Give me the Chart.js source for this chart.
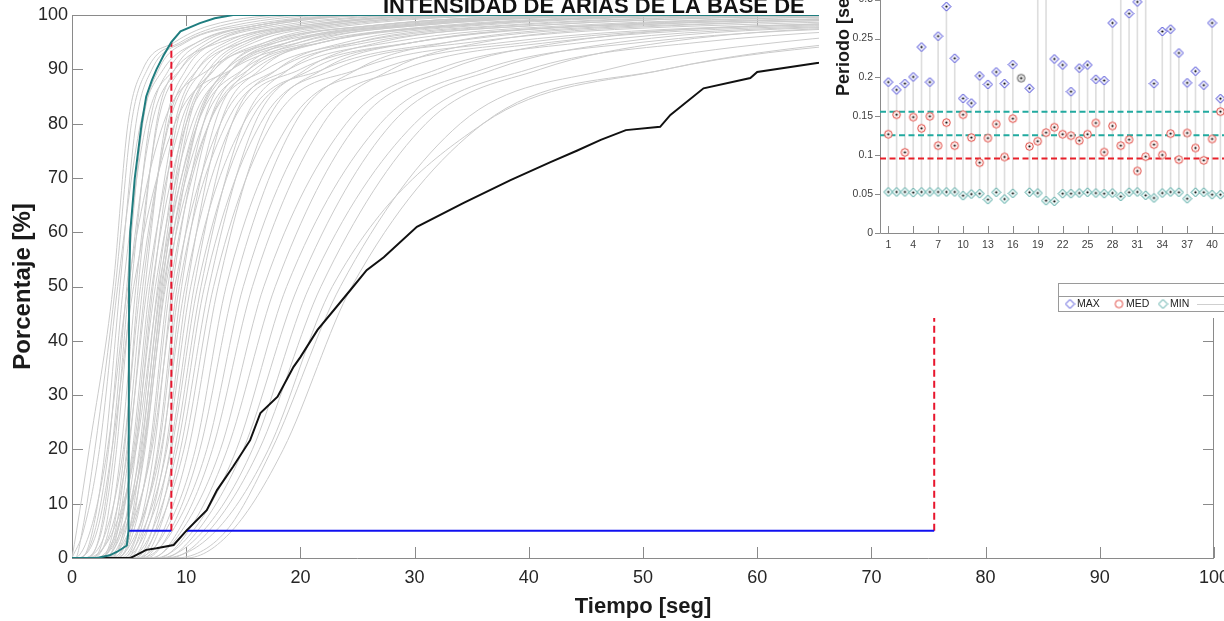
<!DOCTYPE html>
<html><head><meta charset="utf-8">
<script src="https://cdn.jsdelivr.net/npm/chart.js@4.4.0/dist/chart.umd.min.js"></script>
<style>
html,body{margin:0;padding:0;overflow:hidden;background:#fff;width:1224px;height:621px;}
#main{position:absolute;left:0;top:0;}
#inset{position:absolute;left:819px;top:-170px;background:#fff;}
</style></head><body>
<canvas id="main" width="1224" height="621"></canvas>
<canvas id="inset" width="441" height="488"></canvas>
<script>
// ---------------- MAIN CHART DATA ----------------
const titleText = 'INTENSIDAD DE ARIAS DE LA BASE DE';
const xTitle = 'Tiempo [seg]';
const yTitle = 'Porcentaje [%]';
// Husid levels (%) and time (s) at which each gray record reaches them
const huLevels = [0, 5, 20, 50, 80, 90, 95, 98, 100];
const grayCurves = [
  [0.0, 0.4, 1.5, 3.6, 4.9, 6.2, 9.0, 12, 20],
  [0.3, 0.9, 2.0, 3.8, 5.2, 6.6, 9.5, 13, 22],
  [0.0, 1.0, 2.4, 4.0, 6.0, 8.0, 11, 16, 28],
  [0.8, 1.8, 2.9, 4.2, 5.6, 7.0, 9.8, 14, 24],
  [0.6, 2.0, 3.2, 4.5, 6.5, 9.0, 13, 20, 34],
  [1.4, 2.5, 3.5, 4.8, 6.2, 7.6, 10, 15, 26],
  [0.2, 1.6, 3.1, 4.9, 8.0, 12, 18, 28, 48],
  [1.0, 2.6, 3.7, 5.0, 7.0, 9.5, 12.5, 18, 32],
  [1.8, 2.9, 3.9, 5.2, 6.8, 8.5, 11, 16, 28],
  [0.4, 2.2, 3.5, 5.4, 9.0, 14, 21, 33, 58],
  [1.8, 3.2, 4.3, 5.6, 7.5, 9.5, 12, 17, 28],
  [2.5, 3.6, 4.6, 5.8, 7.4, 9.0, 11.5, 16, 27],
  [1.0, 3.0, 4.5, 6.0, 8.5, 11, 15, 22, 38],
  [2.2, 3.8, 4.8, 6.2, 8.4, 10.5, 13.5, 19, 33],
  [3.0, 4.0, 5.0, 6.4, 8.2, 10, 12.5, 17, 30],
  [1.5, 3.4, 4.9, 6.6, 9.5, 12.5, 17, 26, 45],
  [2.8, 4.2, 5.3, 6.8, 9.0, 11, 14, 20, 35],
  [2.0, 3.9, 5.4, 7.0, 10, 13.5, 19, 29, 50],
  [3.5, 4.5, 5.6, 7.1, 9.2, 11.5, 14.5, 21, 36],
  [2.4, 4.0, 5.5, 7.3, 10.5, 14, 20, 30, 55],
  [3.2, 4.7, 5.9, 7.5, 9.8, 12, 15, 22, 40],
  [1.2, 3.6, 5.6, 7.6, 11, 15, 22, 34, 60],
  [3.8, 5.0, 6.1, 7.7, 10, 12.5, 16, 23, 42],
  [2.6, 4.4, 6.0, 7.8, 10.8, 13.5, 17.5, 26, 48],
  [4.0, 5.2, 6.3, 7.9, 10.2, 12.3, 15.5, 21, 38],
  [3.0, 4.6, 6.2, 8.0, 11.5, 15.5, 22, 33, 65],
  [3.6, 5.0, 6.4, 8.1, 11, 14, 19, 28, 52],
  [2.2, 4.3, 6.3, 8.2, 12, 17, 25, 38, 75],
  [4.0, 5.4, 6.8, 8.4, 11, 13.5, 17, 24, 45],
  [3.4, 5.2, 6.9, 8.6, 12, 16, 22, 32, 62],
  [4.5, 5.8, 7.2, 8.8, 11.5, 14, 18, 26, 50],
  [3.0, 5.0, 7.0, 9.0, 13, 18, 26, 40, 85],
  [4.8, 6.0, 7.5, 9.2, 12, 15, 19, 27, 55],
  [4.2, 5.8, 7.6, 9.4, 13.5, 19, 28, 43, 95],
  [5.0, 6.3, 7.9, 9.6, 12.5, 15.5, 20, 29, 58],
  [3.8, 5.7, 7.8, 9.9, 14, 20, 30, 46, 110],
  [5.2, 6.6, 8.2, 10.1, 13, 16.5, 21, 30, 60],
  [4.4, 6.2, 8.3, 10.4, 15, 22, 33, 50, 120],
  [5.5, 7.0, 8.6, 10.7, 14, 18, 24, 35, 70],
  [4.6, 6.5, 8.7, 11.0, 15.5, 21, 30, 45, 100],
  [5.8, 7.3, 9.0, 11.3, 15, 19, 25, 37, 75],
  [5.0, 7.0, 9.2, 11.6, 16.5, 23, 35, 55, 130],
  [6.0, 7.6, 9.5, 12.0, 16, 20.5, 27, 40, 85],
  [5.4, 7.4, 9.8, 12.4, 17.5, 25, 38, 60, 140],
  [6.2, 8.0, 10.2, 12.8, 17, 22, 30, 45, 90],
  [5.6, 8.2, 10.8, 13.5, 19, 27, 40, 62, 150],
  [6.5, 8.6, 11.2, 14.2, 19.5, 25, 33, 48, 100],
  [6.0, 8.8, 11.8, 15.0, 21, 29, 42, 65, 150],
  [7.0, 9.3, 12.3, 15.8, 22, 28, 36, 52, 110],
  [6.8, 9.6, 13.0, 16.8, 24, 32, 45, 68, 160],
  [7.5, 10.2, 13.6, 17.8, 25, 33, 43, 60, 130],
  [7.2, 10.6, 14.4, 18.8, 27, 36, 50, 75, 170],
  [8.0, 11.0, 15.0, 19.8, 28, 37, 48, 70, 150],
  [7.6, 11.5, 15.8, 20.8, 30, 40, 55, 80, 180],
  [8.5, 12.0, 16.4, 21.8, 31, 41, 52, 72, 160],
  [8.0, 12.6, 17.2, 22.8, 36, 52, 68, 90, 200],
  [9.0, 13.5, 17.5, 23.5, 34, 47, 62, 85, 200],
  [10.0, 14.0, 18.5, 24.5, 36, 52, 70, 95, 220]
];
// fastest record (teal)
const tealTime = [0, 2.2, 3.3, 4.0, 4.8, 4.95, 5.0, 5.1, 5.5, 6.1, 6.5, 7.0, 7.4, 8.0, 8.7, 9.5, 11.2, 12.5, 14.1, 100];
const tealPct  = [0, 0, 0.5, 1.2, 2.3, 5, 50, 60, 70, 80, 85, 88, 90, 92.5, 95, 97, 98.5, 99.4, 100, 100];
// slowest record (black)
const blackTime = [0, 5.1, 5.4, 6.5, 7.4, 8.9, 10.0, 11.8, 12.7, 14.1, 15.6, 16.5, 18.0, 19.4, 20.0, 21.5, 24.4, 25.8, 27.3, 30.2, 34.3, 38.4, 41.9, 44.2, 46.3, 48.5, 51.5, 52.4, 55.3, 59.4, 60.0, 65.4, 70, 75.5, 100];
const blackPct  = [0, 0, 0.3, 1.5, 1.8, 2.4, 5.0, 8.8, 12.5, 16.8, 21.7, 26.7, 29.7, 35.2, 37, 42, 49.4, 53, 55.4, 61, 65.4, 69.6, 72.9, 75, 77, 78.8, 79.4, 81.6, 86.5, 88.4, 89.5, 91.2, 93, 95, 98.5];
// significant duration D5-95 markers
const durStart = [4.9, 10.0];
const durEnd   = [8.7, 75.5];
const durLow = 5, durHigh = 95;
const mainXTicks = [0,10,20,30,40,50,60,70,80,90,100];

// ---------------- INSET DATA ----------------
const recIdx = [1,2,3,4,5,6,7,8,9,10,11,12,13,14,15,16,17,18,19,20,21,22,23,24,25,26,27,28,29,30,31,32,33,34,35,36,37,38,39,40,41];
const perMax = [0.194,0.184,0.192,0.2006,0.239,0.194,0.253,0.291,0.2246,0.173,0.167,0.202,0.191,0.207,0.192,0.2165,null,0.186,0.36,0.33,0.2237,0.216,0.1817,0.212,0.216,0.1976,0.196,0.27,0.34,0.282,0.297,0.33,0.192,0.259,0.262,0.2314,0.193,0.208,0.19,0.27,0.1727];
const perMed = [0.127,0.152,0.1037,0.149,0.1346,0.150,0.1123,0.1419,0.1123,0.152,0.1226,0.0904,0.122,0.140,0.0977,0.147,null,0.1114,0.118,0.129,0.136,0.127,0.125,0.1187,0.127,0.1414,0.104,0.1376,0.1123,0.120,0.0797,0.0981,0.1136,0.1003,0.1277,0.0943,0.1286,0.1093,0.0934,0.1209,0.156];
const perMin = [0.0527,0.0527,0.0527,0.0519,0.0527,0.0527,0.0527,0.0527,0.0527,0.048,0.050,0.0506,0.0429,0.0523,0.0437,0.051,null,0.0523,0.0514,0.0416,0.0407,0.0506,0.0506,0.0514,0.0523,0.0514,0.0506,0.0514,0.047,0.0523,0.0527,0.0484,0.045,0.0514,0.0527,0.0523,0.0441,0.0523,0.0523,0.0493,0.0493];
const otherIdx = [17];
const otherVal = [0.199];
const refTeal = [0.156, 0.1255];
const refRed = [0.0956];
const insetXTicks = [1,4,7,10,13,16,19,22,25,28,31,34,37,40,43];
const insetYTitle = 'Periodo [seg]';
const legendLabels = ['MAX', 'MED', 'MIN'];

// ---------------- STYLE ----------------
const FONT = "'Liberation Sans', Arial, Helvetica, sans-serif";
Chart.defaults.font.family = FONT;
Chart.defaults.color = '#262626';
const AXIS = '#8a8a8a';

function pts(xs, ys) { return xs.map((x, i) => ({x: x, y: ys[i]})); }

const datasets = [];
datasets.push({label:'teal', data: pts(tealTime, tealPct), borderColor:'#1f7d7f', borderWidth:2, pointRadius:0, tension:0, order:0});
datasets.push({label:'black', data: pts(blackTime, blackPct), borderColor:'#111111', borderWidth:2, pointRadius:0, tension:0, order:1});
durStart.forEach((s, i) => {
  datasets.push({label:'d'+i, data:[{x:s,y:durLow},{x:durEnd[i],y:durLow}], borderColor:'#1010f0', borderWidth:2, pointRadius:0, order:2});
  datasets.push({label:'r'+i, data:[{x:durEnd[i],y:durLow},{x:durEnd[i],y:durHigh}], borderColor:'#e8152d', borderWidth:2, borderDash:[7,4], pointRadius:0, order:3});
});
grayCurves.forEach((c, k) => {
  const d = [];
  if (c[0] > 0) d.push({x:0, y:0});
  c.forEach((t, i) => d.push({x:t, y:huLevels[i]}));
  if (c[c.length-1] < 100) d.push({x:100, y:100});
  datasets.push({label:'g'+k, data:d, borderColor:'#cbcbcb', borderWidth:1, pointRadius:0, cubicInterpolationMode:'monotone', order:5});
});

const boxTicks = {
  id:'boxTicks',
  beforeDatasetsDraw(chart) {
    const {ctx, chartArea:{left,right,top,bottom}, scales:{x,y}} = chart;
    ctx.save();
    ctx.strokeStyle = AXIS; ctx.lineWidth = 1;
    ctx.beginPath();
    ctx.rect(left+0.5, top+0.5, right-left-1, bottom-top);
    x.ticks.forEach(t => {
      const p = Math.round(x.getPixelForValue(t.value)) + 0.5;
      ctx.moveTo(p, bottom); ctx.lineTo(p, bottom-11);
      ctx.moveTo(p, top); ctx.lineTo(p, top+11);
    });
    y.ticks.forEach(t => {
      const p = Math.round(y.getPixelForValue(t.value)) + 0.5;
      ctx.moveTo(left, p); ctx.lineTo(left+11, p);
      ctx.moveTo(right, p); ctx.lineTo(right-11, p);
    });
    ctx.stroke();
    ctx.restore();
  },
  afterDraw(chart) {
    const ctx = chart.ctx;
    ctx.save();
    ctx.font = "bold 22px " + FONT;
    ctx.fillStyle = '#111';
    ctx.textBaseline = 'alphabetic';
    ctx.fillText(titleText, 383, 13);
    ctx.restore();
  }
};

function fixFit(w, h) {
  return function(s) {
    if (w !== null) s.width = w;
    if (h !== null) s.height = h;
    s.paddingLeft = 0; s.paddingRight = 0; s.paddingTop = 0; s.paddingBottom = 0;
  };
}

new Chart(document.getElementById('main'), {
  type:'line',
  data:{datasets},
  options:{
    responsive:false, animation:false, events:[],
    layout:{padding:{top:15, right:10, left:0, bottom:0}},
    plugins:{legend:{display:false}, tooltip:{enabled:false}},
    scales:{
      x:{type:'linear', min:0, max:100,
         afterBuildTicks(s){ s.ticks = mainXTicks.map(v => ({value:v})); },
         ticks:{font:{size:18}, color:'#262626', padding:9, maxRotation:0},
         grid:{display:false, drawTicks:false}, border:{display:false},
         title:{display:true, text:xTitle, font:{size:22, weight:'bold'}, color:'#1a1a1a', padding:{top:0,bottom:1}},
         afterFit: fixFit(null, 63)},
      y:{type:'linear', min:0, max:100,
         ticks:{stepSize:10, font:{size:18}, color:'#262626', padding:4},
         grid:{display:false, drawTicks:false}, border:{display:false},
         title:{display:true, text:yTitle, font:{size:24, weight:'bold'}, color:'#1a1a1a', padding:{top:9,bottom:0}},
         afterFit: fixFit(72, null)}
    }
  },
  plugins:[boxTicks]
});

// ---------------- INSET ----------------
function makeMarker(shape, stroke, fill, dot) {
  const c = document.createElement('canvas');
  c.width = 11; c.height = 11;
  const g = c.getContext('2d');
  g.beginPath();
  if (shape === 'diamond') {
    g.moveTo(5.5, 1.0); g.lineTo(10.0, 5.5); g.lineTo(5.5, 10.0); g.lineTo(1.0, 5.5); g.closePath();
  } else {
    g.arc(5.5, 5.5, 3.8, 0, Math.PI*2);
  }
  g.fillStyle = fill; g.fill();
  g.strokeStyle = stroke; g.lineWidth = 1; g.stroke();
  if (dot) { g.beginPath(); g.arc(5.5, 5.5, 1.1, 0, Math.PI*2); g.fillStyle = '#000'; g.fill(); }
  return c;
}
const COL_MAX = '#3b3bd4', COL_MED = '#e0463f', COL_MIN = '#3f9e98';
const mMax = makeMarker('diamond', COL_MAX, '#f1f1fc', true);
const mMed = makeMarker('circle', COL_MED, '#fdf0ef', true);
const mMin = makeMarker('diamond', COL_MIN, '#eef8f7', true);
const mOther = makeMarker('circle', '#555555', '#e8e8e8', true);
const lMax = makeMarker('diamond', COL_MAX, '#ffffff', false);
const lMed = makeMarker('circle', COL_MED, '#ffffff', false);
const lMin = makeMarker('diamond', COL_MIN, '#ffffff', false);

function series(vals) {
  const out = [];
  recIdx.forEach((i, k) => { if (vals[k] !== null) out.push({x:i, y:vals[k]}); });
  return out;
}
const stems = [];
recIdx.forEach((i, k) => { if (perMax[k] !== null) stems.push({x:i, y:[perMin[k], perMax[k]]}); });

const insetXMin = 0, insetXMax = 43;
const insetDs = [
  {type:'bar', label:'stem', data:stems, backgroundColor:'#dedede', barThickness:1, order:10},
  {type:'scatter', label:'MAX', data:series(perMax), pointStyle:mMax, pointRadius:5, order:1},
  {type:'scatter', label:'MED', data:series(perMed), pointStyle:mMed, pointRadius:5, order:1},
  {type:'scatter', label:'MIN', data:series(perMin), pointStyle:mMin, pointRadius:5, order:1},
  {type:'scatter', label:'other', data:otherIdx.map((i,k)=>({x:i,y:otherVal[k]})), pointStyle:mOther, pointRadius:5, order:1}
];
refTeal.forEach(v => insetDs.push({type:'line', label:'rt', data:[{x:insetXMin,y:v},{x:insetXMax,y:v}], borderColor:'#22aaa0', borderWidth:2, borderDash:[6,3.5], pointRadius:0, order:5}));
refRed.forEach(v => insetDs.push({type:'line', label:'rr', data:[{x:insetXMin,y:v},{x:insetXMax,y:v}], borderColor:'#e8202a', borderWidth:2, borderDash:[6,3.5], pointRadius:0, order:5}));

const insetAxes = {
  id:'insetAxes',
  beforeDatasetsDraw(chart) {
    const {ctx, chartArea:{left,right,top,bottom}, scales:{x,y}} = chart;
    ctx.save();
    ctx.strokeStyle = AXIS; ctx.lineWidth = 1;
    ctx.beginPath();
    ctx.rect(left+0.5, top+0.5, right-left, bottom-top);
    x.ticks.forEach(t => {
      const p = Math.round(x.getPixelForValue(t.value)) + 0.5;
      ctx.moveTo(p, bottom); ctx.lineTo(p, bottom-7);
    });
    y.ticks.forEach(t => {
      const p = Math.round(y.getPixelForValue(t.value)) + 0.5;
      ctx.moveTo(left, p); ctx.lineTo(left-5, p);
    });
    ctx.stroke();
    ctx.restore();
  },
  afterDraw(chart) {
    const ctx = chart.ctx;
    const bx = 239, by = 453, bh = 28;
    ctx.save();
    ctx.fillStyle = '#fff';
    ctx.fillRect(bx, by, chart.width - bx + 5, bh);
    ctx.strokeStyle = '#9a9a9a'; ctx.lineWidth = 1;
    ctx.strokeRect(bx+0.5, by+0.5, chart.width, bh);
    ctx.beginPath(); ctx.moveTo(bx, by+13.5); ctx.lineTo(chart.width, by+13.5); ctx.stroke();
    const cy = by + 21;
    const marks = [lMax, lMed, lMin];
    const mx = [251, 300, 344];
    ctx.font = '10.5px ' + FONT; ctx.fillStyle = '#222'; ctx.textBaseline = 'middle';
    legendLabels.forEach((lab, i) => {
      ctx.drawImage(marks[i], mx[i]-5.5, cy-5.5);
      ctx.fillText(lab, mx[i]+7, cy+0.5);
    });
    ctx.strokeStyle = '#cfcfcf';
    ctx.beginPath(); ctx.moveTo(378, cy+0.5); ctx.lineTo(chart.width, cy+0.5); ctx.stroke();
    ctx.restore();
  }
};

new Chart(document.getElementById('inset'), {
  type:'scatter',
  data:{datasets:insetDs},
  options:{
    responsive:false, animation:false, events:[],
    layout:{padding:{top:14, right:23, left:0, bottom:0}},
    plugins:{legend:{display:false}, tooltip:{enabled:false}},
    scales:{
      x:{type:'linear', min:insetXMin, max:insetXMax, offset:false,
         afterBuildTicks(s){ s.ticks = insetXTicks.map(v => ({value:v})); },
         ticks:{font:{size:10.5}, color:'#404040', padding:6, maxRotation:0, autoSkip:false},
         grid:{display:false, offset:false, drawTicks:false}, border:{display:false},
         afterFit: fixFit(null, 85)},
      y:{type:'linear', min:0, max:0.5,
         ticks:{stepSize:0.05, font:{size:10.5}, color:'#404040', padding:7,
                callback:v => String(Math.round(v*100)/100)},
         grid:{display:false, drawTicks:false}, border:{display:false},
         title:{display:true, text:insetYTitle, font:{size:18, weight:'bold'}, color:'#1a1a1a', padding:{top:14,bottom:0}},
         afterFit: fixFit(61, null)}
    }
  },
  plugins:[insetAxes]
});
</script>
</body></html>
